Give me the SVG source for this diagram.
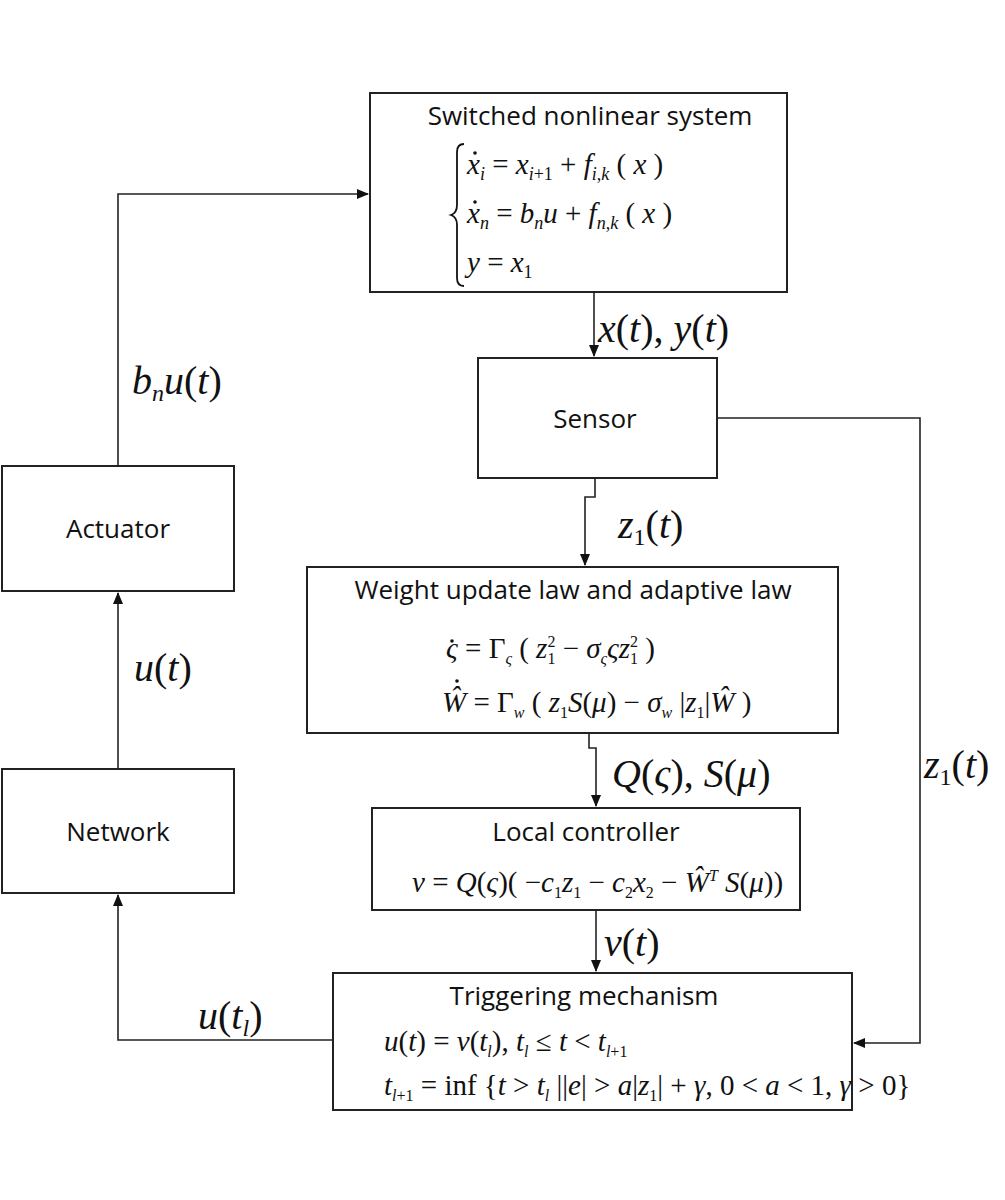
<svg xmlns="http://www.w3.org/2000/svg" width="1005" height="1200" viewBox="0 0 1005 1200">
<style>
rect{fill:#fff;stroke:#222;stroke-width:2}
.t{font-family:"Open Sans","Noto Sans",sans-serif;font-size:26px;fill:#111;text-anchor:middle}
.m{font-family:"Liberation Serif",serif;font-style:italic;font-size:29px;fill:#111}
.L{font-family:"Liberation Serif",serif;font-style:italic;font-size:40px;fill:#111}
.r{font-style:normal}
.c{fill:none;stroke:#222;stroke-width:1.6}
.d{fill:#111}
</style>
<defs><marker id="a" markerWidth="12" markerHeight="10" refX="11" refY="5" orient="auto" markerUnits="userSpaceOnUse"><path d="M0,0L12,5L0,10z" fill="#111"/></marker></defs>
<rect width="1005" height="1200" style="fill:#fff;stroke:none"/>
<g id="connectors">
<path class="c" d="M594,292V356" marker-end="url(#a)"/>
<path class="c" d="M595,478V497H585V565" marker-end="url(#a)"/>
<path class="c" d="M589,733V748H596V806" marker-end="url(#a)"/>
<path class="c" d="M596,910V971" marker-end="url(#a)"/>
<path class="c" d="M717,418H920V1043H854" marker-end="url(#a)"/>
<path class="c" d="M333,1040H118V895" marker-end="url(#a)"/>
<path class="c" d="M118,769V593" marker-end="url(#a)"/>
<path class="c" d="M118,466V194H368" marker-end="url(#a)"/>
<text class="L" x="598" y="342">x<tspan class="r">(</tspan>t<tspan class="r">)</tspan><tspan class="r">, </tspan>y<tspan class="r">(</tspan>t<tspan class="r">)</tspan></text>
<text class="L" x="618" y="538">z<tspan class="r" font-size="24" dy="7">1</tspan><tspan class="r" dy="-7">(</tspan>t<tspan class="r">)</tspan></text>
<text class="L" x="612" y="787">Q<tspan class="r">(</tspan>ς<tspan class="r">), </tspan>S<tspan class="r">(</tspan>μ<tspan class="r">)</tspan></text>
<text class="L" x="604" y="956">v<tspan class="r">(</tspan>t<tspan class="r">)</tspan></text>
<text class="L" x="924" y="778">z<tspan class="r" font-size="24" dy="7">1</tspan><tspan class="r" dy="-7">(</tspan>t<tspan class="r">)</tspan></text>
<text class="L" x="198" y="1029">u<tspan class="r">(</tspan>t<tspan font-size="24" dy="7">l</tspan><tspan class="r" dy="-7">)</tspan></text>
<text class="L" x="134" y="681">u<tspan class="r">(</tspan>t<tspan class="r">)</tspan></text>
<text class="L" x="132" y="394">b<tspan font-size="24" dy="7">n</tspan><tspan dy="-7">u</tspan><tspan class="r">(</tspan>t<tspan class="r">)</tspan></text>
</g>
<g id="system">
<rect x="370" y="93" width="417" height="199"/>
<text class="t" x="590" y="125">Switched nonlinear system</text>
<path d="M464,144 Q457,144 457,152 V205 Q457,213 451,215 Q457,217 457,225 V278 Q457,286 464,286" fill="none" stroke="#111" stroke-width="1.8"/>
<circle class="d" cx="475" cy="153" r="1.8"/><circle class="d" cx="475" cy="202" r="1.8"/>
<text class="m" x="467" y="174">x<tspan font-size="18" dy="6">i</tspan><tspan class="r" dy="-6"> = </tspan>x<tspan font-size="18" dy="6">i<tspan class="r">+1</tspan></tspan><tspan class="r" dy="-6"> + </tspan>f<tspan font-size="18" dy="6">i<tspan class="r">,</tspan>k</tspan><tspan class="r" dy="-6"> ( </tspan>x<tspan class="r"> )</tspan></text>
<text class="m" x="467" y="223">x<tspan font-size="18" dy="6">n</tspan><tspan class="r" dy="-6"> = </tspan>b<tspan font-size="18" dy="6">n</tspan><tspan dy="-6">u</tspan><tspan class="r"> + </tspan>f<tspan font-size="18" dy="6">n<tspan class="r">,</tspan>k</tspan><tspan class="r" dy="-6"> ( </tspan>x<tspan class="r"> )</tspan></text>
<text class="m" x="467" y="272">y<tspan class="r"> = </tspan>x<tspan class="r" font-size="18" dy="6">1</tspan></text>
</g>
<g id="sensor">
<rect x="478" y="358" width="239" height="120"/>
<text class="t" x="595" y="428">Sensor</text>
</g>
<g id="weight">
<rect x="307" y="567" width="531" height="166"/>
<text class="t" x="573" y="599">Weight update law and adaptive law</text>
<circle class="d" cx="452" cy="641" r="1.8"/><circle class="d" cx="457" cy="681" r="1.8"/>
<text class="m" x="446" y="658">ς<tspan class="r"> = Γ</tspan><tspan font-size="16" dy="6">ς</tspan><tspan class="r" dy="-6"> ( </tspan>z<tspan class="r" font-size="16" dy="-11">2</tspan><tspan class="r" font-size="16" dx="-8" dy="17">1</tspan><tspan class="r" dy="-6"> − </tspan>σ<tspan font-size="16" dy="6">ς</tspan><tspan dy="-6">ςz</tspan><tspan class="r" font-size="16" dy="-11">2</tspan><tspan class="r" font-size="16" dx="-8" dy="17">1</tspan><tspan class="r" dy="-6"> )</tspan></text>
<text class="m" x="442" y="712">Ŵ<tspan class="r"> = Γ</tspan><tspan font-size="16" dy="6">w</tspan><tspan class="r" dy="-6"> ( </tspan>z<tspan class="r" font-size="16" dy="6">1</tspan><tspan dy="-6">S</tspan><tspan class="r">(</tspan>μ<tspan class="r">) − </tspan>σ<tspan font-size="16" dy="6">w</tspan><tspan class="r" dy="-6"> |</tspan>z<tspan class="r" font-size="16" dy="6">1</tspan><tspan class="r" dy="-6">|</tspan>Ŵ<tspan class="r"> )</tspan></text>
</g>
<g id="local">
<rect x="372" y="808" width="428" height="102"/>
<text class="t" x="586" y="841">Local controller</text>
<text class="m" x="412" y="892">v<tspan class="r"> = </tspan>Q<tspan class="r">(</tspan>ς<tspan class="r">)( −</tspan>c<tspan class="r" font-size="16" dy="6">1</tspan><tspan dy="-6">z</tspan><tspan class="r" font-size="16" dy="6">1</tspan><tspan class="r" dy="-6"> − </tspan>c<tspan class="r" font-size="16" dy="6">2</tspan><tspan dy="-6">x</tspan><tspan class="r" font-size="16" dy="6">2</tspan><tspan class="r" dy="-6"> − </tspan>Ŵ<tspan font-size="16" dy="-11">T</tspan><tspan dy="11"> S</tspan><tspan class="r">(</tspan>μ<tspan class="r">))</tspan></text>
</g>
<g id="trigger">
<rect x="333" y="973" width="519" height="137"/>
<text class="t" x="584" y="1005">Triggering mechanism</text>
<text class="m" x="384" y="1051">u<tspan class="r">(</tspan>t<tspan class="r">) = </tspan>v<tspan class="r">(</tspan>t<tspan font-size="16" dy="6">l</tspan><tspan class="r" dy="-6">), </tspan>t<tspan font-size="16" dy="6">l</tspan><tspan class="r" dy="-6"> ≤ </tspan>t<tspan class="r"> &lt; </tspan>t<tspan font-size="16" dy="6">l<tspan class="r">+1</tspan></tspan></text>
<text class="m" x="384" y="1095" font-size="27">t<tspan font-size="16" dy="6">l<tspan class="r">+1</tspan></tspan><tspan class="r" dy="-6"> = inf {</tspan>t<tspan class="r"> &gt; </tspan>t<tspan font-size="16" dy="6">l</tspan><tspan class="r" dy="-6"> ||</tspan>e<tspan class="r">| &gt; </tspan>a<tspan class="r">|</tspan>z<tspan class="r" font-size="16" dy="6">1</tspan><tspan class="r" dy="-6">| + </tspan>γ<tspan class="r">, 0 &lt; </tspan>a<tspan class="r"> &lt; 1, </tspan>γ<tspan class="r"> &gt; 0}</tspan></text>
</g>
<g id="actuator">
<rect x="2" y="466" width="232" height="125"/>
<text class="t" x="118" y="538">Actuator</text>
</g>
<g id="network">
<rect x="2" y="769" width="232" height="124"/>
<text class="t" x="118" y="841">Network</text>
</g>
</svg>
